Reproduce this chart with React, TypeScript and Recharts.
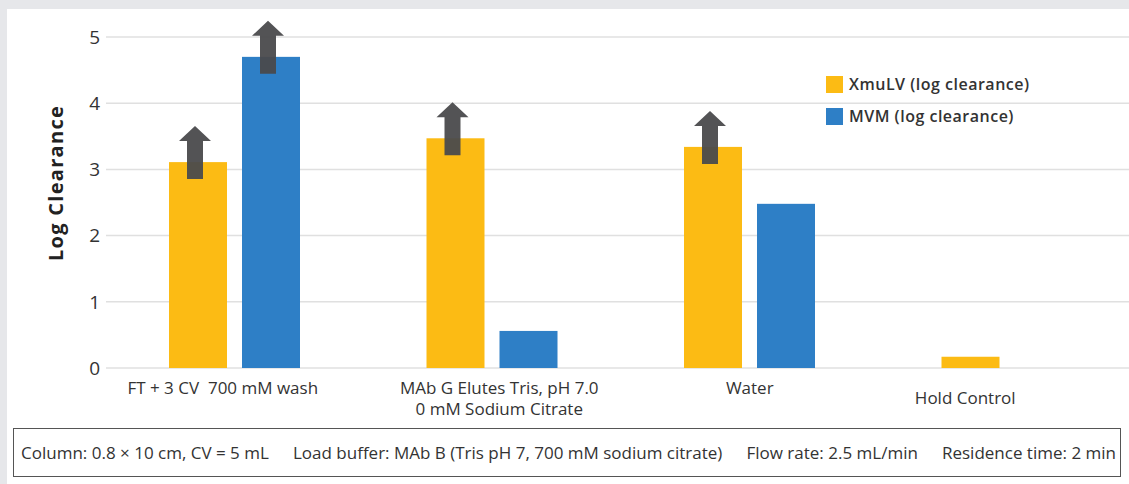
import { BarChart, Bar, XAxis, YAxis, CartesianGrid, Label } from 'recharts';

const categories = [
  'FT + 3 CV  700 mM wash',
  'MAb G Elutes Tris, pH 7.0\n0 mM Sodium Citrate',
  'Water',
  'Hold Control',
];
const xmulvValues = [3.11, 3.47, 3.34, 0.17];
const mvmValues: (number | null)[] = [4.7, 0.56, 2.48, null];
// arrows mark "greater than" results
const xmulvArrows = [true, true, true, false];
const mvmArrows = [true, false, false, false];
const yTicks = [0, 1, 2, 3, 4, 5];

const seriesNames = ['XmuLV (log clearance)', 'MVM (log clearance)'];

const footnotes = [
  'Column: 0.8 × 10 cm, CV = 5 mL',
  'Load buffer: MAb B (Tris pH 7, 700 mM sodium citrate)',
  'Flow rate: 2.5 mL/min',
  'Residence time: 2 min',
];

const YELLOW = '#FCBB14';
const BLUE = '#2E7FC6';
const TEXT = '#333333';
const FONT = "'Open Sans', sans-serif";

// small per-label nudges to match the original placement
const TICK_NUDGE = [
  { dx: -12, dy: 0 },
  { dx: 7, dy: 0 },
  { dx: 0, dy: 0 },
  { dx: -42, dy: 10 },
];

const data = categories.map((name, i) => ({
  name,
  xmulv: xmulvValues[i],
  mvm: mvmValues[i],
  xArrow: xmulvArrows[i],
  mArrow: mvmArrows[i],
}));

function ArrowBar(props: any) {
  const { x, y, width, height, fill, payload, flagKey } = props;
  if (height == null || height <= 0) return null;
  const showArrow = payload && payload[flagKey];
  const cx = x + width / 2 - 3;
  const tip = y - 36;
  const headBase = tip + 15;
  const shaftBottom = y + 17;
  return (
    <g>
      <rect x={x} y={y} width={width} height={height} fill={fill} />
      {showArrow && (
        <path
          d={`M${cx},${tip} L${cx + 16},${headBase} L${cx + 8},${headBase} L${cx + 8},${shaftBottom} L${cx - 8},${shaftBottom} L${cx - 8},${headBase} L${cx - 16},${headBase} Z`}
          fill="#4a4a4c"
          fillOpacity={0.95}
        />
      )}
    </g>
  );
}

function CategoryTick(props: any) {
  const { x, y, payload, index } = props;
  const lines = String(payload.value).split('\n');
  const nudge = TICK_NUDGE[index] || { dx: 0, dy: 0 };
  return (
    <text
      x={x + nudge.dx}
      y={y + 18 + nudge.dy}
      textAnchor="middle"
      fill={TEXT}
      fontSize={17}
      fontFamily={FONT}
      style={{ whiteSpace: 'pre' }}
    >
      {lines.map((l, i) => (
        <tspan key={i} x={x + nudge.dx} dy={i === 0 ? 0 : 21}>
          {l}
        </tspan>
      ))}
    </text>
  );
}

function YTitle() {
  const cx = 55;
  const cy = 183;
  return (
    <text
      x={cx}
      y={cy}
      transform={`rotate(-90 ${cx} ${cy})`}
      textAnchor="middle"
      dominantBaseline="central"
      fill="#222"
      fontSize={20}
      fontWeight={700}
      letterSpacing={1.3}
      fontFamily={FONT}
    >
      Log Clearance
    </text>
  );
}

export default function App() {
  const colors = [YELLOW, BLUE];
  return (
    <div
      style={{
        position: 'absolute',
        left: 0,
        top: 0,
        width: 1129,
        height: 484,
        overflow: 'hidden',
        background: '#e6e7ea',
      }}
    >
      <div style={{ position: 'absolute', left: 7, top: 9, right: 0, bottom: 0, background: '#fff' }} />
      <div style={{ position: 'absolute', left: 0, top: 0 }}>
        <BarChart
          width={1145}
          height={420}
          data={data}
          margin={{ top: 37, right: 9, left: 0, bottom: 0 }}
          barSize={58}
          barGap={15}
        >
          <CartesianGrid vertical={false} stroke="#e0e0e0" strokeWidth={1.5} />
          <XAxis
            dataKey="name"
            height={52}
            axisLine={false}
            tickLine={false}
            interval={0}
            tick={<CategoryTick />}
          />
          <YAxis
            width={106}
            domain={[0, 5]}
            ticks={yTicks}
            axisLine={false}
            tickLine={false}
            tickSize={6}
            tickMargin={0}
            tick={{ fill: TEXT, fontSize: 19, fontFamily: FONT }}
          >
            <Label content={<YTitle />} />
          </YAxis>
          <Bar
            dataKey="xmulv"
            name={seriesNames[0]}
            fill={YELLOW}
            isAnimationActive={false}
            shape={(p: any) => <ArrowBar {...p} flagKey="xArrow" />}
          />
          <Bar
            dataKey="mvm"
            name={seriesNames[1]}
            fill={BLUE}
            isAnimationActive={false}
            shape={(p: any) => <ArrowBar {...p} flagKey="mArrow" />}
          />
        </BarChart>
      </div>
      <div style={{ position: 'absolute', left: 826, top: 68 }}>
        {seriesNames.map((label, i) => (
          <div key={label} style={{ display: 'flex', alignItems: 'center', height: 32 }}>
            <span style={{ width: 17, height: 17, background: colors[i], display: 'inline-block', marginRight: 6 }} />
            <span style={{ fontFamily: FONT, fontWeight: 600, fontSize: 16, letterSpacing: 0.5, color: TEXT }}>
              {label}
            </span>
          </div>
        ))}
      </div>
      <div
        style={{
          position: 'absolute',
          left: 13,
          top: 428,
          width: 1108,
          height: 49,
          boxSizing: 'border-box',
          border: '1.5px solid #555',
          display: 'flex',
          alignItems: 'center',
          justifyContent: 'space-between',
          padding: '0 4px 0 7px',
          fontFamily: FONT,
          fontSize: 17,
          color: TEXT,
          whiteSpace: 'nowrap',
        }}
      >
        {footnotes.map((f) => (
          <span key={f}>{f}</span>
        ))}
      </div>
    </div>
  );
}
